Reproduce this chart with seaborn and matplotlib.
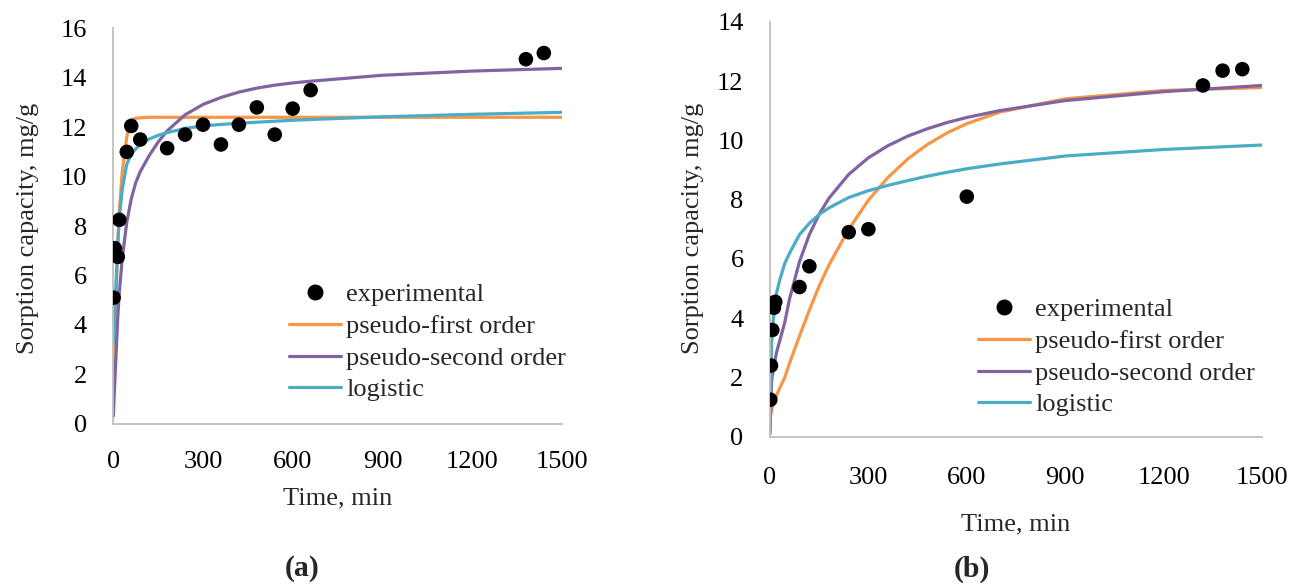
import numpy as np
import pandas as pd
import seaborn as sns
import matplotlib.pyplot as plt
from matplotlib.lines import Line2D

# ---- panel (a) ----
t_exp_a = [1, 5, 15, 20, 45, 60, 90, 180, 240, 300, 360, 420, 480, 540, 600, 660, 1380, 1440]
q_exp_a = [5.1, 7.1, 6.75, 8.25, 11.0, 12.05, 11.5, 11.15, 11.7, 12.1, 11.3, 12.1, 12.8, 11.7, 12.75, 13.5, 14.75, 15.0]

t_fit_a = [0, 5, 15, 20, 30, 45, 60, 75, 90, 120, 150, 180, 240, 300, 360, 420, 480, 540, 600, 660, 900, 1200, 1500]
pfo_a = [1.1, 3.5, 7.3, 8.6, 10.2, 11.6, 12.3, 12.36, 12.38, 12.4, 12.4, 12.4, 12.4, 12.4, 12.4, 12.4, 12.4, 12.4, 12.4, 12.4, 12.4, 12.4, 12.4]
pso_a = [0.3, 1.7, 4.3, 5.3, 6.7, 8.15, 9.1, 9.75, 10.2, 10.85, 11.4, 11.85, 12.5, 12.92, 13.2, 13.42, 13.58, 13.7, 13.79, 13.86, 14.1, 14.27, 14.38]
log_a = [3.25, 4.6, 7.3, 8.3, 9.5, 10.5, 10.9, 11.12, 11.3, 11.52, 11.67, 11.78, 11.95, 12.05, 12.11, 12.16, 12.2, 12.24, 12.28, 12.31, 12.42, 12.52, 12.6]

# ---- panel (b) ----
t_exp_b = [1, 3, 7, 12, 16, 90, 120, 240, 300, 600, 1320, 1380, 1440]
q_exp_b = [1.25, 2.4, 3.6, 4.35, 4.55, 5.05, 5.75, 6.9, 7.0, 8.1, 11.85, 12.35, 12.4]

t_fit_b = [0, 5, 10, 20, 30, 45, 60, 90, 120, 150, 180, 240, 300, 360, 420, 480, 540, 600, 700, 900, 1200, 1500]
pfo_b = [0.67, 0.9, 1.1, 1.4, 1.65, 2.0, 2.5, 3.4, 4.27, 5.09, 5.8, 7.0, 7.98, 8.75, 9.37, 9.86, 10.25, 10.56, 10.95, 11.4, 11.68, 11.78]
pso_b = [0.1, 1.9, 2.3, 2.85, 3.25, 3.86, 4.67, 5.91, 6.82, 7.51, 8.05, 8.85, 9.41, 9.82, 10.14, 10.39, 10.6, 10.77, 11.0, 11.34, 11.64, 11.85]
log_b = [0.4, 3.2, 3.95, 4.85, 5.3, 5.85, 6.2, 6.82, 7.2, 7.5, 7.72, 8.07, 8.3, 8.48, 8.64, 8.79, 8.92, 9.04, 9.2, 9.47, 9.69, 9.84]

labels = ["experimental", "pseudo-first order", "pseudo-second order", "logistic"]
colors = ["#F79646", "#8064A2", "#4BACC6"]

sns.set_style("white")
plt.rcParams['font.family'] = ['Liberation Serif', 'DejaVu Serif']
FS = 19
grey = "#BFBFBF"

fig = plt.figure(figsize=(12.95, 5.84), dpi=100)
ax_a = fig.add_axes([0.0875, 0.2745, 0.3463, 0.677])
ax_b = fig.add_axes([0.5946, 0.2522, 0.3799, 0.7106])


def draw(ax, t_exp, q_exp, t_fit, fits, ymax, xpad):
    fit_df = pd.DataFrame({"t": t_fit})
    for name, vals, c in zip(labels[1:], fits, colors):
        fit_df[name] = vals
        sns.lineplot(data=fit_df, x="t", y=name, ax=ax, color=c, lw=2.3,
                     estimator=None, sort=False, zorder=2)
    exp_df = pd.DataFrame({"t": t_exp, "q": q_exp})
    sns.scatterplot(data=exp_df, x="t", y="q", ax=ax, color="black", s=110,
                    edgecolor="none", zorder=3)
    ax.set_xlim(0, 1500)
    ax.set_ylim(0, ymax)
    ax.set_xticks(range(0, 1501, 300))
    ax.set_yticks(range(0, ymax + 1, 2))
    for s in ["top", "right"]:
        ax.spines[s].set_visible(False)
    for s in ["left", "bottom"]:
        ax.spines[s].set_color(grey)
        ax.spines[s].set_linewidth(1.3)
    ax.tick_params(direction="in", length=6, width=1.3, color=grey,
                   labelsize=FS, labelcolor="black")
    ax.tick_params(axis="y", pad=19)
    ax.tick_params(axis="x", pad=xpad)
    ax.set_xlabel("Time, min", fontsize=FS, va="center")
    ax.set_ylabel("Sorption capacity, mg/g", fontsize=FS, va="center")


draw(ax_a, t_exp_a, q_exp_a, t_fit_a, [pfo_a, pso_a, log_a], 16, 20)
draw(ax_b, t_exp_b, q_exp_b, t_fit_b, [pfo_b, pso_b, log_b], 14, 21.5)

ax_a.xaxis.set_label_coords(0.5, -0.188)
ax_a.yaxis.set_label_coords(-0.1896, 0.495)
ax_b.xaxis.set_label_coords(0.5, -0.2116)
ax_b.yaxis.set_label_coords(-0.1565, 0.503)

# legends
handles = [Line2D([], [], ls="none", marker="o", color="black", markersize=10.5)]
handles += [Line2D([], [], color=c, lw=2.3) for c in colors]
for x_px, y_px in [(289, 283), (978, 298)]:
    fig.legend(handles, labels, loc="upper left",
               bbox_to_anchor=(x_px / 1295, 1 - y_px / 584),
               frameon=False, fontsize=FS, borderpad=0, borderaxespad=0,
               handlelength=1.97, handletextpad=0.19, labelspacing=0.31)

fig.text(302 / 1295, 1 - 569 / 584, "(a)", ha="center", va="center",
         fontsize=21.5, fontweight="bold")
fig.text(972 / 1295, 1 - 569 / 584, "(b)", ha="center", va="center",
         fontsize=21.5, fontweight="bold")

fig.savefig("out.png", dpi=100)
